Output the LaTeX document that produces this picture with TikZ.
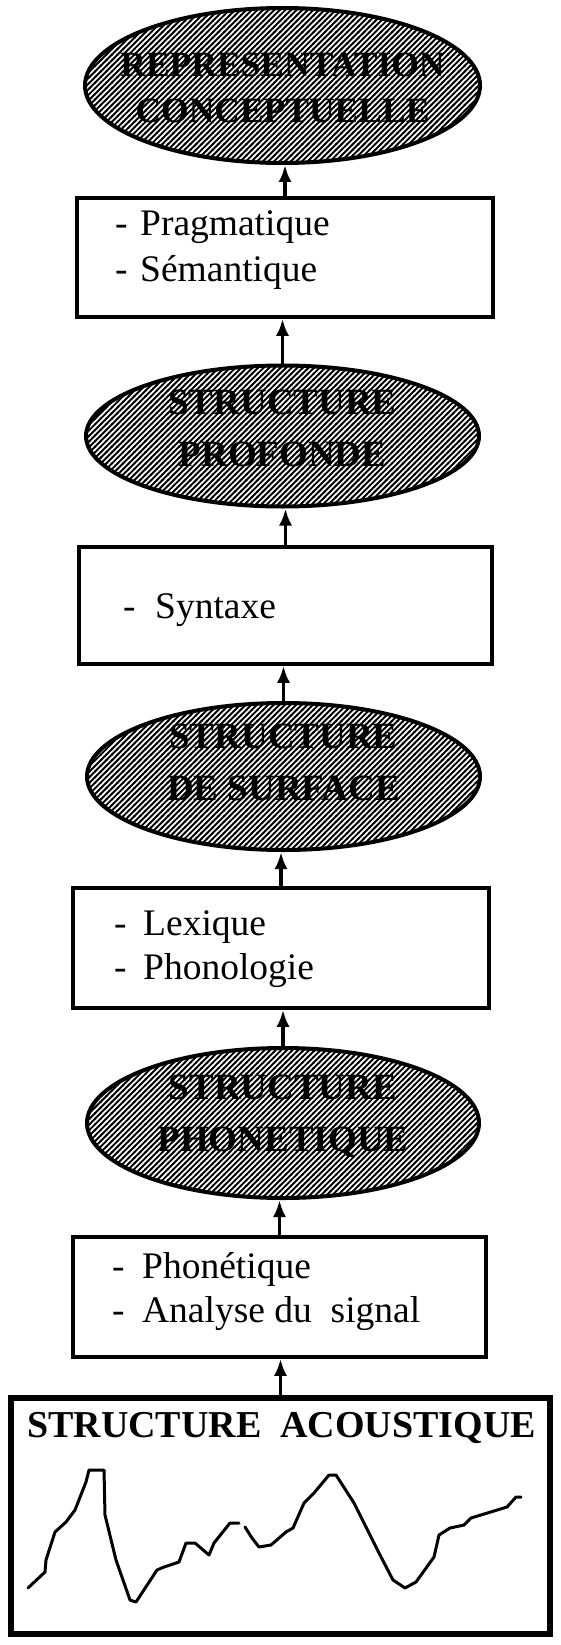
\documentclass[tikz,border=0pt]{standalone}
\usepackage{fontspec}
\setmainfont{Liberation Serif}
\usetikzlibrary{arrows.meta,patterns,shapes.geometric}
\pgfdeclarepatternformonly{hatchlines}{\pgfqpoint{-1.5pt}{-1.5pt}}{\pgfqpoint{7pt}{7pt}}{\pgfqpoint{5.6pt}{5.6pt}}{%
  \pgfsetlinewidth{1.9pt}%
  \pgfpathmoveto{\pgfqpoint{-0.6pt}{-0.6pt}}%
  \pgfpathlineto{\pgfqpoint{6.2pt}{6.2pt}}%
  \pgfusepath{stroke}}
\newcommand{\dashitem}[2]{\makebox[#1][l]{-}#2}
\tikzset{
  ell/.style={ellipse, draw, line width=4pt, pattern=hatchlines, inner sep=0pt},
  box/.style={rectangle, draw, line width=3.5pt, fill=white, inner sep=0pt},
  etext/.style={align=center, font=\fontsize{37}{52}\selectfont\bfseries, inner sep=0pt},
  btext/.style={anchor=base west, font=\fontsize{37.5}{44}\selectfont, inner sep=0pt},
  arr/.style={line width=3.5pt, -{Latex[length=17pt,width=13pt]}},
  wave/.style={line width=3pt, line join=round, line cap=round},
}
\begin{document}
\begin{tikzpicture}[x=1pt,y=-1pt]
\fill[white] (0,0) rectangle (560,1645);
\useasboundingbox (0,0) rectangle (560,1645);

% ellipses
\node[ell, minimum width=395pt, minimum height=155pt] (e1) at (282.5,85.5) {};
\node[etext, font=\fontsize{35.5}{46}\selectfont\bfseries] (e1t) at (282.5,88) {REPRESENTATION\\CONCEPTUELLE};

\node[ell, minimum width=393pt, minimum height=141pt] (e2) at (282.5,436) {};
\node[etext] (e2t) at (282.5,428) {STRUCTURE\\PROFONDE};

\node[ell, minimum width=393pt, minimum height=147pt] (e3) at (283.5,776.5) {};
\node[etext] (e3t) at (283.5,762) {STRUCTURE\\DE SURFACE};

\node[ell, minimum width=392pt, minimum height=150pt] (e4) at (283,1123) {};
\node[etext] (e4t) at (283,1116) {STRUCTURE\\PHONETIQUE};

% boxes
\node[box, minimum width=416pt, minimum height=119pt] (b1) at (285,257.5) {};
\node[btext] (b1a) at (115,236) {\dashitem{25pt}{Pragmatique}};
\node[btext] (b1b) at (115,281) {\dashitem{25pt}{Sémantique}};

\node[box, minimum width=413pt, minimum height=117pt] (b2) at (285.5,605.5) {};
\node[btext] (b2a) at (123,618) {\dashitem{32pt}{Syntaxe}};

\node[box, minimum width=416pt, minimum height=120pt] (b3) at (281,948) {};
\node[btext] (b3a) at (114,935) {\dashitem{29pt}{Lexique}};
\node[btext] (b3b) at (114,979) {\dashitem{29pt}{Phonologie}};

\node[box, minimum width=413pt, minimum height=120pt] (b4) at (279.5,1297) {};
\node[btext] (b4a) at (112,1278) {\dashitem{30pt}{Phonétique}};
\node[btext] (b4b) at (112,1322) {\dashitem{30pt}{Analyse du\ \ signal}};

% acoustic box
\node[box, line width=5.5pt, minimum width=539pt, minimum height=236pt] (big) at (280.5,1516) {};
\node[anchor=base west, inner sep=0pt, font=\fontsize{38}{44}\selectfont\bfseries] (bigt) at (27,1437) {STRUCTURE\ \ ACOUSTIQUE};

\draw[wave] (28,1588) -- (45,1572) -- (46,1560) -- (55,1532) -- (66,1522) -- (75,1510)
  -- (86,1482) -- (89,1470) -- (104,1470) -- (105,1515) -- (116,1560) -- (130,1600)
  -- (136,1602) -- (157,1570) -- (164,1567) -- (179,1562) -- (186,1543) -- (195,1543)
  -- (209,1555) -- (214,1543) -- (230,1523) -- (239,1523);
\draw[wave] (245,1527) -- (252,1538) -- (259,1547) -- (271,1545) -- (286,1532) -- (293,1528)
  -- (304,1503) -- (314,1493) -- (329,1475) -- (336,1475) -- (354,1503) -- (379,1553)
  -- (393,1580) -- (405,1588) -- (416,1582) -- (434,1557) -- (439,1535) -- (450,1528)
  -- (464,1525) -- (471,1518) -- (507,1507) -- (516,1497) -- (521,1497);

% connectors
\draw[arr] (big.north) -- (big.north |- b4.south);
\draw[arr] (b4.north) -- (b4.north |- e4.south);
\draw[arr] (e4.north) -- (e4.north |- b3.south);
\draw[arr] (b3.north) -- (b3.north |- e3.south);
\draw[arr] (e3.north) -- (e3.north |- b2.south);
\draw[arr] (b2.north) -- (b2.north |- e2.south);
\draw[arr] (e2.north) -- (e2.north |- b1.south);
\draw[arr] (b1.north) -- (b1.north |- e1.south);
\end{tikzpicture}
\end{document}
